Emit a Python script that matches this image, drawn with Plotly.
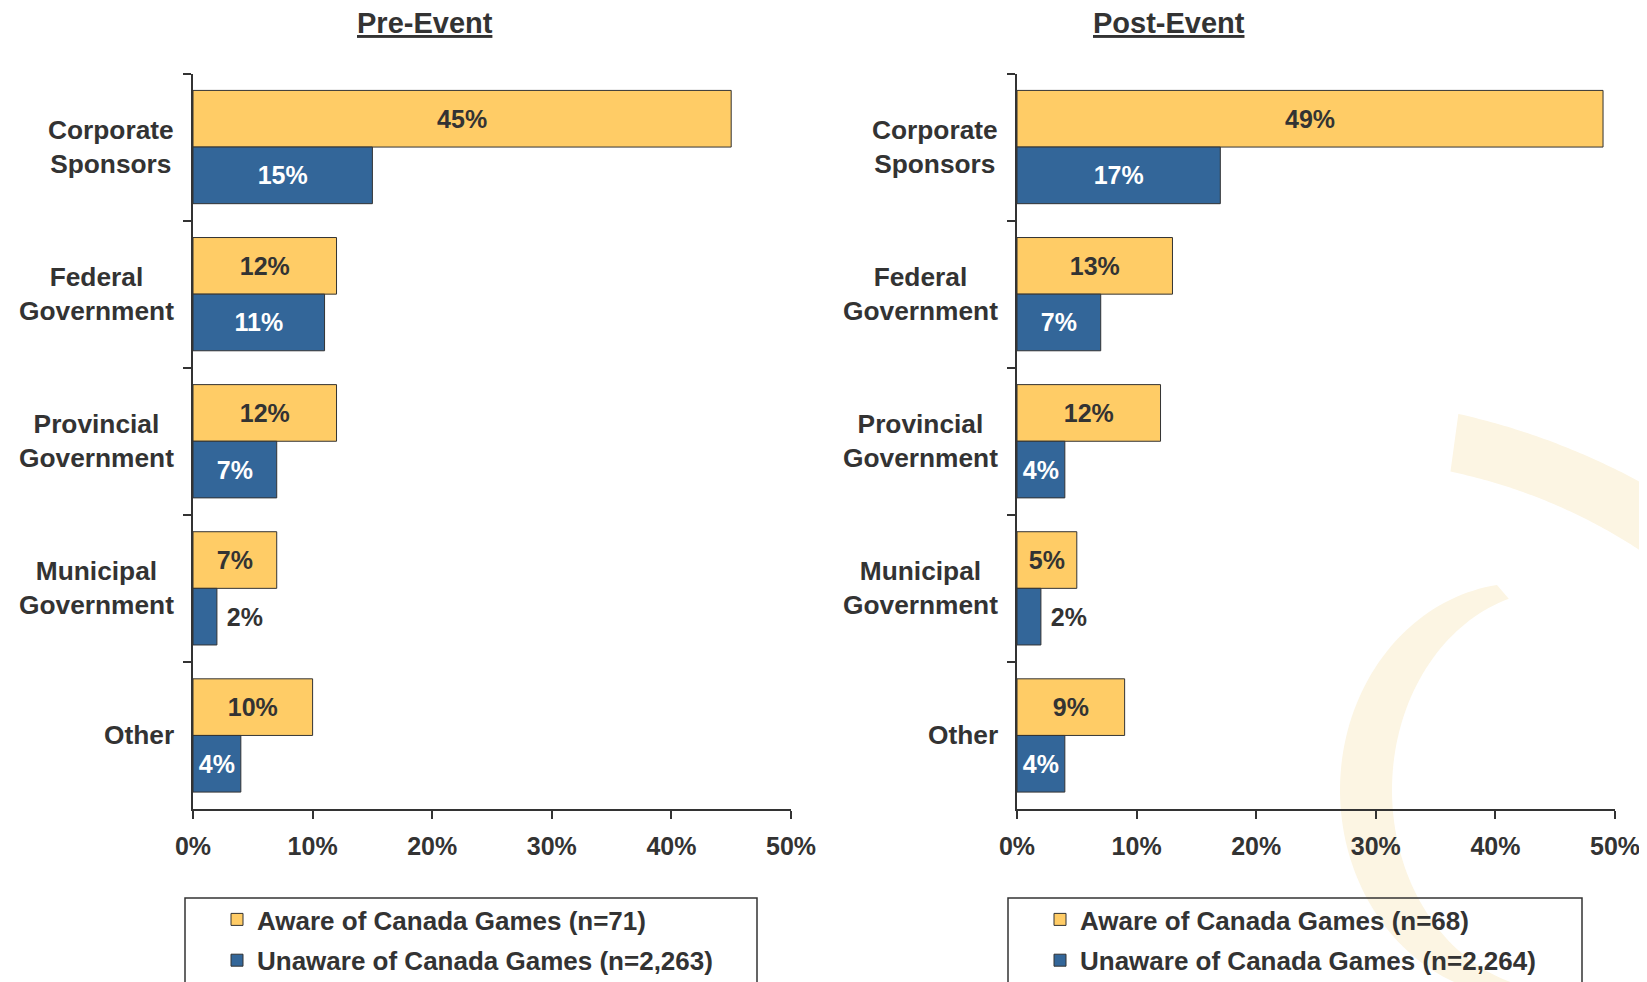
import numpy as np
import plotly.graph_objects as go

W, H = 1647, 982
OFF = 8  # page body margin of the html page

categories = ["Corporate<br>Sponsors", "Federal<br>Government", "Provincial<br>Government",
              "Municipal<br>Government", "Other"]
pre_aware = [45, 12, 12, 7, 10]
pre_unaware = [15, 11, 7, 2, 4]
post_aware = [49, 13, 12, 5, 9]
post_unaware = [17, 7, 4, 2, 4]
panel_titles = ["Pre-Event", "Post-Event"]
aware_names = ["Aware of Canada Games (n=71)", "Aware of Canada Games (n=68)"]
unaware_names = ["Unaware of Canada Games (n=2,263)", "Unaware of Canada Games (n=2,264)"]
x_ticks = [0, 10, 20, 30, 40, 50]
x_ticktext = ["0%", "10%", "20%", "30%", "40%", "50%"]

AWARE = "#FFCC66"
UNAWARE = "#336699"
DARK = "#333333"
FONT = "Liberation Sans, Arial, sans-serif"

def px_x(v):
    return (v - OFF) / W

def px_y(v):
    return 1 - (v - OFF) / H

def positions(vals):
    # small bars cannot hold their label -> label goes outside
    return ["inside" if v >= 3 else "outside" for v in vals]

def labels(vals):
    return [f"{v}%" if v >= 3 else f"\u00a0{v}%" for v in vals]

fig = go.Figure()

panels = [(pre_aware, pre_unaware, "x", "y", "legend"),
          (post_aware, post_unaware, "x2", "y2", "legend2")]

for i, (aw, un, xa, ya, lg) in enumerate(panels):
    fig.add_trace(go.Bar(
        y=categories, x=aw, orientation="h", name=aware_names[i],
        xaxis=xa, yaxis=ya, legend=lg, legendgroup=f"a{i}",
        marker=dict(color=AWARE, line=dict(color=DARK, width=1)),
        text=labels(aw), texttemplate="%{text}",
        textposition=positions(aw), insidetextanchor="middle",
        constraintext="none", cliponaxis=False,
        insidetextfont=dict(color=DARK, size=25, family=FONT, weight="bold"),
        outsidetextfont=dict(color=DARK, size=25, family=FONT, weight="bold"),
        hoverinfo="skip",
    ))
    fig.add_trace(go.Bar(
        y=categories, x=un, orientation="h", name=unaware_names[i],
        xaxis=xa, yaxis=ya, legend=lg, legendgroup=f"u{i}",
        marker=dict(color=UNAWARE, line=dict(color=DARK, width=1)),
        text=labels(un), texttemplate="%{text}",
        textposition=positions(un), insidetextanchor="middle",
        constraintext="none", cliponaxis=False,
        insidetextfont=dict(color="white", size=25, family=FONT, weight="bold"),
        outsidetextfont=dict(color=DARK, size=25, family=FONT, weight="bold"),
        hoverinfo="skip",
    ))

ydom = [px_y(809), px_y(73.5)]
xdoms = [[px_x(193), px_x(791)], [px_x(1017), px_x(1615)]]

axis_common_x = dict(
    range=[0, 50], tickvals=x_ticks, ticktext=x_ticktext, showgrid=False, zeroline=False,
    showline=True, linecolor=DARK, linewidth=2, ticks="outside", ticklen=8,
    tickwidth=1.5, tickcolor=DARK, ticklabelstandoff=6, automargin=False,
    tickfont=dict(size=25, color=DARK, family=FONT, weight="bold"), fixedrange=True,
)
axis_common_y = dict(
    type="category", categoryorder="array", categoryarray=categories,
    autorange="reversed", showgrid=False, zeroline=False, showline=True,
    linecolor=DARK, linewidth=2, ticks="outside", ticklen=8, tickwidth=1.5,
    tickcolor=DARK, tickson="boundaries", showticklabels=False, fixedrange=True,
    automargin=False,
)

fig.update_layout(
    xaxis=dict(domain=xdoms[0], anchor="y", **axis_common_x),
    yaxis=dict(domain=ydom, anchor="x", **axis_common_y),
    xaxis2=dict(domain=xdoms[1], anchor="y2", **axis_common_x),
    yaxis2=dict(domain=ydom, anchor="x2", **axis_common_y),
)

annotations = []
title_x = [425, 1169]
for i, t in enumerate(panel_titles):
    annotations.append(dict(
        text=f"<u>{t}</u>", xref="paper", yref="paper", x=px_x(title_x[i]), y=px_y(23),
        xanchor="center", yanchor="middle", showarrow=False,
        font=dict(size=29, color=DARK, family=FONT, weight="bold"),
    ))
for xa, ya in [("x", "y"), ("x2", "y2")]:
    for c in categories:
        annotations.append(dict(
            text=c, xref=f"{xa} domain", yref=ya, x=-17 / 598, y=c,
            xanchor="right", yanchor="middle", align="center", showarrow=False,
            font=dict(size=26.3, color=DARK, family=FONT, weight="bold"),
        ))

# decorative crescent arcs (background watermark)
def ellipse_pts(cx, cy, rx, ry, t0, t1, n=80):
    t = np.radians(np.linspace(t0, t1, n))
    return cx + rx * np.cos(t), cy + ry * np.sin(t)

def crescent_path(outer, inner):
    ox, oy = ellipse_pts(*outer)
    ix, iy = ellipse_pts(*inner)
    xs = np.concatenate([ox, ix[::-1]])
    ys = np.concatenate([oy, iy[::-1]])
    pts = [f"{px_x(a):.5f},{px_y(b):.5f}" for a, b in zip(xs, ys)]
    return "M" + " L".join(pts) + " Z"

ARC = "#FCF5E3"
shapes = [
    dict(type="path", xref="paper", yref="paper", layer="below",
         path=crescent_path((1522, 790, 182, 207, -97.9, -250), (1557, 790, 165, 200, -107, -255)),
         fillcolor=ARC, line=dict(width=0)),
    dict(type="path", xref="paper", yref="paper", layer="below",
         path=crescent_path((1305, 1100, 703, 703, -77.4, -50), (1338, 1010, 550, 550, -78.2, -50)),
         fillcolor=ARC, line=dict(width=0)),
]
# legend frames
for x0, x1 in [(185, 757), (1008, 1582)]:
    shapes.append(dict(type="rect", xref="paper", yref="paper",
                       x0=px_x(x0), x1=px_x(x1), y0=px_y(1010), y1=px_y(898),
                       line=dict(color=DARK, width=1.5), fillcolor="rgba(0,0,0,0)"))

legend_common = dict(
    bgcolor="rgba(0,0,0,0)", borderwidth=0, orientation="v", traceorder="grouped",
    tracegroupgap=4, xanchor="left", yanchor="top",
    font=dict(size=26, color=DARK, family=FONT, weight="bold"),
)

fig.update_layout(
    width=W, height=H, margin=dict(l=0, r=0, t=0, b=0, autoexpand=False),
    paper_bgcolor="white", plot_bgcolor="rgba(0,0,0,0)",
    barmode="group", bargap=0.23, bargroupgap=0,
    showlegend=True,
    legend=dict(x=px_x(217), y=px_y(896), **legend_common),
    legend2=dict(x=px_x(1040), y=px_y(896), **legend_common),
    annotations=annotations, shapes=shapes,
    font=dict(family=FONT, color=DARK),
)

fig.write_html("out.html")
